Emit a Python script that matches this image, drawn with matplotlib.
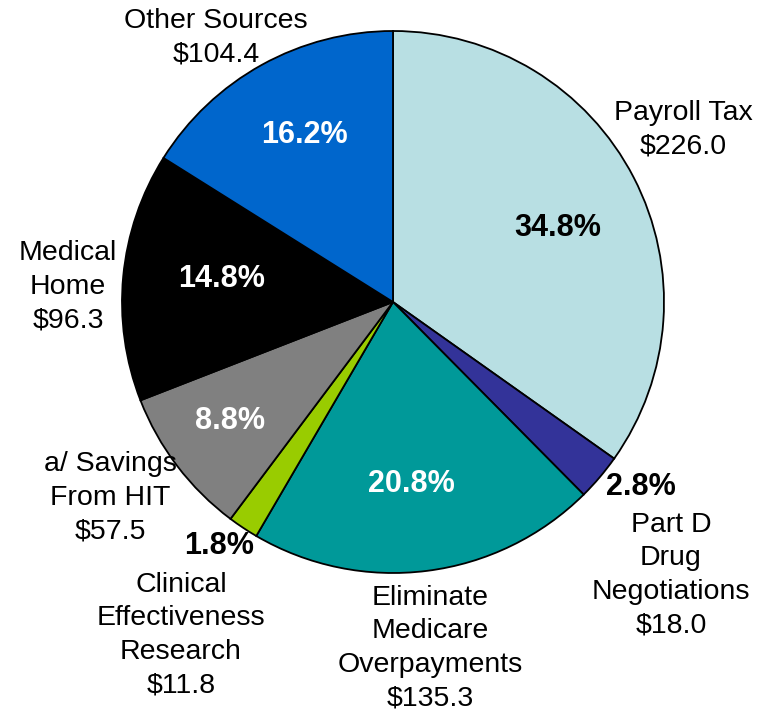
import matplotlib.pyplot as plt

plt.rcParams['font.family'] = ['Liberation Sans', 'DejaVu Sans']

# datos del grafico (miles de millones)
categorias = ['Payroll Tax', 'Part D\nDrug\nNegotiations', 'Eliminate\nMedicare\nOverpayments',
              'Clinical\nEffectiveness\nResearch', 'a/ Savings\nFrom HIT', 'Medical\nHome',
              'Other Sources']
valores = [226.0, 18.0, 135.3, 11.8, 57.5, 96.3, 104.4]
porcentajes = ['34.8%', '2.8%', '20.8%', '1.8%', '8.8%', '14.8%', '16.2%']
colores = ['#B8DFE3', '#333399', '#009999', '#99CC00', '#808080', '#000000', '#0066CC']
color_pct = ['black', 'black', 'white', 'black', 'white', 'white', 'white']

# posiciones de etiquetas en pixeles (x, y desde arriba)
pos_nombre = [(683, 130), (671, 575), (430, 648), (181, 635), (110, 498), (68, 287), (216, 38)]
pos_pct = [(558, 228), (641, 487), (411, 484), (219, 546), (230, 421), (222, 279), (304, 135)]

W, H = 773, 715
fig = plt.figure(figsize=(W / 100, H / 100), dpi=100)
ax = fig.add_axes([0, 0, 1, 1])

ax.pie(valores, colors=colores, startangle=90, counterclock=False,
       center=(393, H - 302), radius=271,
       wedgeprops={'edgecolor': 'black', 'linewidth': 1.3})

# fijar limites despues del pie (pie los cambia)
ax.set_xlim(0, W)
ax.set_ylim(0, H)
ax.set_aspect('equal')
ax.axis('off')

for i in range(len(valores)):
    nombre = categorias[i] + '\n$' + format(valores[i], '.1f')
    x, y = pos_nombre[i]
    ax.text(x, H - y, nombre, ha='center', va='center', fontsize=20.5,
            multialignment='center', linespacing=1.38)
    x, y = pos_pct[i]
    ax.text(x, H - y, porcentajes[i], ha='center', va='center', fontsize=22,
            fontweight='bold', color=color_pct[i])

fig.savefig('out.png', dpi=100)
